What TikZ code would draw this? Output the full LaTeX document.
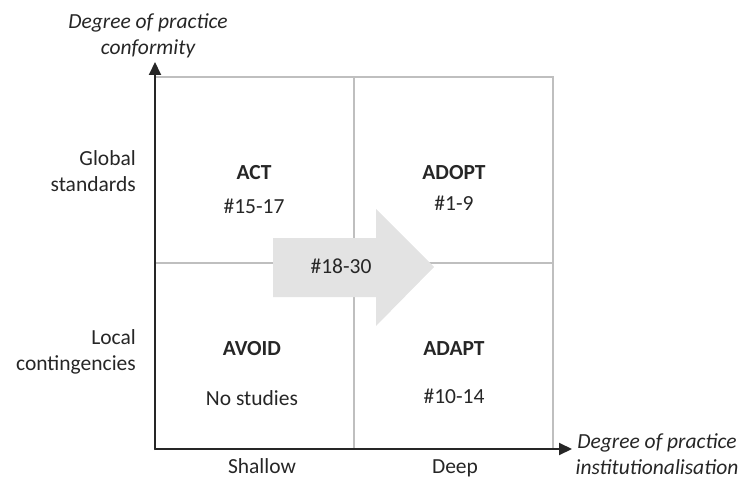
\documentclass[tikz,border=0pt]{standalone}
\usepackage{fontspec}
\setmainfont{Carlito}
\usepackage{xcolor}
\usepackage{tikz}
\usetikzlibrary{arrows.meta}
\definecolor{gridgray}{RGB}{191,191,191}
\definecolor{shiftgray}{RGB}{227,227,227}
\definecolor{ink}{RGB}{38,38,38}

\begin{document}
\begin{tikzpicture}[x=1pt,y=-1pt,line cap=round,
  every node/.style={text=ink,font=\fontsize{21.5}{26}\selectfont,inner sep=0pt},
  axis/.style={ink,line width=2pt,-{Triangle[length=13pt,width=12pt]}},
  grid/.style={gridgray,line width=1.4pt},
  quad/.style={anchor=base,font=\fontsize{21.5}{26}\selectfont\bfseries},
  count/.style={anchor=base},
  axlabel/.style={align=center,font=\fontsize{21.5}{26}\selectfont\itshape},
  level/.style={align=right,anchor=east}]
\useasboundingbox (0,0) rectangle (747,484);
% corners of the matrix
\coordinate (O) at (155,449);
\coordinate (TL) at (155,77);
\coordinate (TR) at (553,77);
\coordinate (BR) at (553,449);
\coordinate (TM) at (354,77);
\coordinate (BM) at (354,449);
\coordinate (LM) at (155,263);
\coordinate (RM) at (553,263);
\coordinate (ytip) at (155,62);
\coordinate (xtip) at (572,449);
% grid
\draw[grid] (TL) -- (TR) -- (BR);
\draw[grid] (TM) -- (BM);
\draw[grid] (LM) -- (RM);
% shift arrow
\fill[shiftgray] (273,238) -- (376,238) -- (376,209) -- (434,267)
  -- (376,326) -- (376,297) -- (273,297) -- cycle;
\node[anchor=base] (shift) at (341,273) {\#18-30};
% axes
\draw[axis] (O) -- (ytip);
\draw[axis] (O) -- (xtip);
% axis labels
\node[axlabel] (ylab) at (148,36) {Degree of practice\\conformity};
\node[axlabel] (xlab) at (657,454) {Degree of practice\\institutionalisation};
\node[level] (global) at (136,171) {Global\\standards};
\node[level] (local) at (136,352) {Local\\contingencies};
\node[anchor=base] (shallow) at (262,473) {Shallow};
\node[anchor=base] (deep) at (455,473) {Deep};
% quadrants
\node[quad] (act) at (254,179) {ACT};
\node[count] (actn) at (254,213) {\#15-17};
\node[quad] (adopt) at (454,179) {ADOPT};
\node[count] (adoptn) at (454,210) {\#1-9};
\node[quad] (avoid) at (252,355) {AVOID};
\node[count] (avoidn) at (252,405) {No studies};
\node[quad] (adapt) at (454,355) {ADAPT};
\node[count] (adaptn) at (454,403) {\#10-14};
\end{tikzpicture}
\end{document}
